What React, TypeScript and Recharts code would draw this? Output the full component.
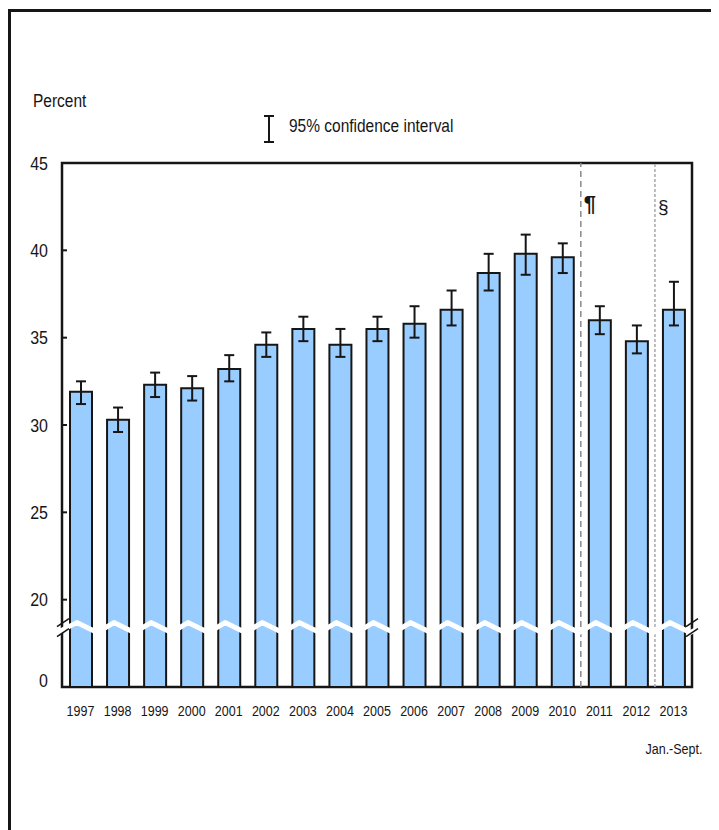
import { BarChart, Bar, XAxis, YAxis, ErrorBar, ReferenceLine, ReferenceArea } from 'recharts';

// Share of adults (percent) by survey year, with 95% confidence limits
const years = ['1997', '1998', '1999', '2000', '2001', '2002', '2003', '2004', '2005', '2006', '2007', '2008', '2009', '2010', '2011', '2012', '2013'];
const percent = [31.9, 30.3, 32.3, 32.1, 33.2, 34.6, 35.5, 34.6, 35.5, 35.8, 36.6, 38.7, 39.8, 39.6, 36.0, 34.8, 36.6];
const ciLow = [31.2, 29.6, 31.6, 31.4, 32.5, 33.9, 34.8, 33.9, 34.8, 35.0, 35.7, 37.7, 38.6, 38.7, 35.2, 34.1, 35.7];
const ciHigh = [32.5, 31.0, 33.0, 32.8, 34.0, 35.3, 36.2, 35.5, 36.2, 36.8, 37.7, 39.8, 40.9, 40.4, 36.8, 35.7, 38.2];
const yTickValues = [0, 20, 25, 30, 35, 40, 45];

// the value axis is broken between 0 and 20: everything from 20 up is shifted down
const AXIS_SHIFT = 15;
const BREAK_LEVEL = 3.4; // where the zigzag sits, in shifted units
const toAxis = (v: number) => (v === 0 ? 0 : v - AXIS_SHIFT);
const fromAxis = (t: number) => (t === 0 ? 0 : t + AXIS_SHIFT);

const rows = years.map((year, i) => ({
  idx: i,
  year,
  value: toAxis(percent[i]),
  ci: [percent[i] - ciLow[i], ciHigh[i] - percent[i]],
}));

const FONT = '"Liberation Sans", Arial, sans-serif';
const INK = '#161616';
const STRETCH = 'scale(1,1.15)';

const YTick = (props: any) => {
  const { x, y, payload } = props;
  const axisX = x + 14;
  const v = fromAxis(payload.value);
  const inner = v !== 0 && v !== 45;
  return (
    <g>
      {inner && <line x1={axisX} x2={axisX + 5} y1={y} y2={y} stroke={INK} strokeWidth={2} />}
      <g transform={`translate(${x},${y + (v === 0 ? 0 : 6.5)}) ${STRETCH}`}>
        <text textAnchor="end" fontFamily={FONT} fontSize={16} fill={INK}>{v}</text>
      </g>
    </g>
  );
};

const XTick = (props: any) => {
  const { x, y, payload } = props;
  const label = years[payload.value];
  return (
    <g>
      <g transform={`translate(${x},${y + 29}) ${STRETCH}`}>
        <text textAnchor="middle" fontFamily={FONT} fontSize={12.5} fill={INK}>{label}</text>
      </g>
      {payload.value === years.length - 1 && (
        <g transform={`translate(${x + 29},${y + 67}) ${STRETCH}`}>
          <text textAnchor="end" fontFamily={FONT} fontSize={12.5} fill={INK}>Jan.-Sept.</text>
        </g>
      )}
    </g>
  );
};

// white zigzag across the plot with // marks on both axes
const BreakLine = (props: any) => {
  const { x1, x2, y1 } = props;
  const y = y1;
  const p = (x2 - x1) / years.length;
  const pts: string[] = [`${x1 - 3},${y + 4}`];
  for (let k = 0; k < years.length; k++) {
    pts.push(`${x1 + k * p + 0.4 * p},${y - 5}`);
    pts.push(`${x1 + k * p + 0.95 * p},${y + 5}`);
  }
  pts.push(`${x2 + 4},${y + 2}`);
  const slash = (cx: number, dy: number) => (
    <line x1={cx - 6} y1={y + dy + 4} x2={cx + 6} y2={y + dy - 4} stroke={INK} strokeWidth={1.6} />
  );
  return (
    <g>
      <polyline points={pts.join(' ')} fill="none" stroke="#fff" strokeWidth={5} strokeLinejoin="round" />
      {slash(x1 + 1, -5)}
      {slash(x1 + 1, 5)}
      {slash(x2, -5)}
      {slash(x2, 5)}
    </g>
  );
};

const markLabel = (glyph: string, dx: number, dy: number, size: number, weight: number) => (props: any) => {
  const { viewBox } = props;
  return (
    <text x={viewBox.x + dx} y={viewBox.y + dy} fontFamily={FONT} fontSize={size} fontWeight={weight} fill={INK}>
      {glyph}
    </text>
  );
};

export default function App() {
  return (
    <div style={{ position: 'relative', width: 711, height: 822, overflow: 'hidden' }}>
      <div
        style={{
          position: 'absolute', left: 0, top: 1, width: 711, height: 821,
          borderTop: `3px solid ${INK}`, borderLeft: `3px solid ${INK}`, boxSizing: 'border-box',
        }}
      />
      <div style={{ position: 'absolute', left: 0, top: 0 }}>
        <BarChart width={711} height={760} data={rows} margin={{ top: 155, right: 27, left: 0, bottom: 41 }}>
          <XAxis
            dataKey="idx"
            type="number"
            domain={[-0.5, years.length - 0.5]}
            ticks={rows.map((r) => r.idx)}
            interval={0}
            height={40}
            tickSize={0}
            tickMargin={0}
            axisLine={false}
            tickLine={false}
            tick={<XTick />}
          />
          <YAxis
            type="number"
            domain={[0, toAxis(45)]}
            ticks={yTickValues.map(toAxis)}
            width={54}
            tickSize={0}
            tickMargin={14}
            axisLine={false}
            tickLine={false}
            tick={<YTick />}
          />
          <ReferenceArea
            x1={-0.5}
            x2={years.length - 0.5}
            y1={0}
            y2={toAxis(45)}
            fill="none"
            stroke={INK}
            strokeWidth={2.5}
          />
          <Bar dataKey="value" barSize={22} fill="#99CCFF" stroke={INK} strokeWidth={2} isAnimationActive={false}>
            <ErrorBar dataKey="ci" direction="y" width={5} stroke={INK} strokeWidth={2} />
          </Bar>
          <ReferenceLine
            x={13.5}
            stroke="#8a8a8a"
            strokeWidth={1.5}
            strokeDasharray="6 4"
            label={markLabel('¶', 3, 48, 22, 700)}
          />
          <ReferenceLine
            x={15.5}
            stroke="#a8a8a8"
            strokeWidth={1.5}
            strokeDasharray="3 2"
            label={markLabel('§', 3, 50, 19, 400)}
          />
          <ReferenceLine y={BREAK_LEVEL} shape={BreakLine} />
        </BarChart>
      </div>
      <svg width={711} height={200} style={{ position: 'absolute', left: 0, top: 0, pointerEvents: 'none' }}>
        <g transform={`translate(25,99) ${STRETCH}`}>
          <text fontFamily={FONT} fontSize={15.5} fill={INK}>Percent</text>
        </g>
        <g stroke={INK} strokeWidth={2}>
          <line x1={261} x2={261} y1={108} y2={134} />
          <line x1={256} x2={266} y1={108} y2={108} />
          <line x1={256} x2={266} y1={134} y2={134} />
        </g>
        <g transform={`translate(281,124) ${STRETCH}`}>
          <text fontFamily={FONT} fontSize={15.5} fill={INK}>95% confidence interval</text>
        </g>
      </svg>
    </div>
  );
}
